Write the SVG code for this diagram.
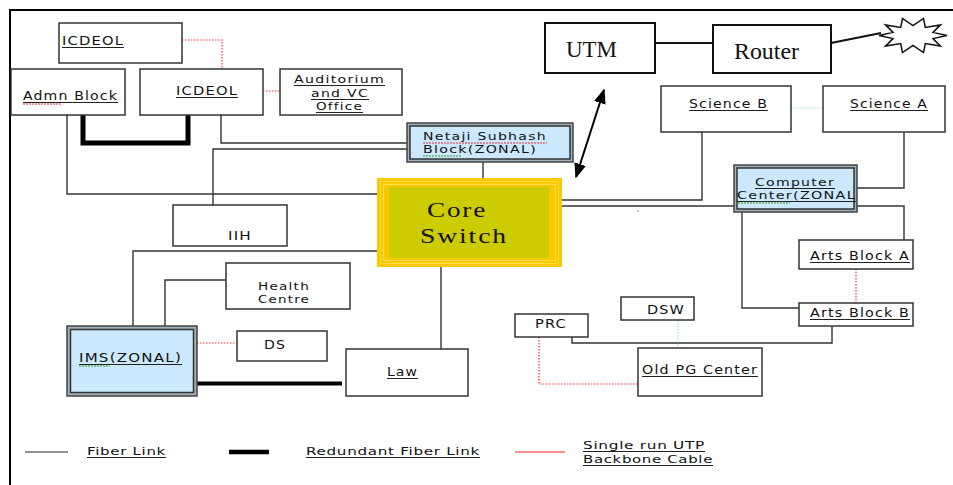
<svg xmlns="http://www.w3.org/2000/svg" width="953" height="485" viewBox="0 0 953 485">
<defs>
<style>
.box{fill:#fff;stroke:#333;stroke-width:1.5}
.big{fill:#fff;stroke:#111;stroke-width:2}
.t{font-family:"DejaVu Sans",Verdana,sans-serif;font-size:12.5px;letter-spacing:1px;fill:#111}
.m{font-size:11px}
.ul{fill:none;stroke:#222;stroke-width:1}
.serif{font-family:"Liberation Serif","Times New Roman",serif;font-size:24px;fill:#111}
.lg{font-family:"DejaVu Sans",Tahoma,sans-serif;font-size:11px;letter-spacing:0.5px;fill:#111}
.fib{fill:none;stroke:#333;stroke-width:1.4}
.red{fill:none;stroke:#ff3030;stroke-width:1.2;stroke-dasharray:1.5 1.5}
.cyan{fill:none;stroke:#9ddde0;stroke-width:1.2;stroke-dasharray:1.5 1.5}
.thick{fill:none;stroke:#000;stroke-width:5}
.zo{fill:#9fb0bc;stroke:#444;stroke-width:1.5}
.zi{fill:#cce8fc;stroke:#333;stroke-width:1.5}
.wr{fill:none;stroke:#e03030;stroke-width:1;stroke-dasharray:2 1}
.wg{fill:none;stroke:#2a9a2a;stroke-width:1;stroke-dasharray:2 1}
</style>
<marker id="ah" viewBox="0 0 10 10" refX="9" refY="5" markerWidth="7.5" markerHeight="6" orient="auto-start-reverse" preserveAspectRatio="none">
<path d="M0,0 L10,5 L0,10 z" fill="#000"/>
</marker>
</defs>
<rect width="953" height="485" fill="#fff"/>
<path d="M10,485 V10 H953" fill="none" stroke="#000" stroke-width="2"/>

<g id="connectors">
<path class="red" d="M182,40 H222 V69"/>
<path class="red" d="M263,91 H280"/>
<path class="thick" d="M83,115 V143 H188 V115"/>
<path class="fib" d="M67,115 V194 H385"/>
<path class="fib" d="M221,115 V143 H408"/>
<path class="fib" d="M213,205 V149 H408"/>
<path class="fib" d="M483,162 V183"/>
<path class="fib" d="M385,251 H133 V326"/>
<path class="fib" d="M165,326 V280 H226"/>
<path class="red" d="M197,343 H237"/>
<path class="thick" d="M197,383.5 H342" style="stroke-width:4"/>
<path class="fib" d="M441,263 V349"/>
<path class="fib" d="M555,200 H702 V132"/>
<path class="fib" d="M555,206 H735"/>
<path class="cyan" d="M791,108 H823"/>
<path class="fib" d="M857,188 H904 V132"/>
<path class="fib" d="M857,206 H904 V240"/>
<path class="fib" d="M742,212 V308 H799"/>
<path class="red" d="M856,269 V303"/>
<path class="fib" d="M832,326 V343 H572 V337"/>
<path class="cyan" d="M678,320 V348"/>
<path class="red" d="M539,337 V384 H638"/>
<path d="M655,43 H713" fill="none" stroke="#111" stroke-width="2"/>
<path d="M831,43 L881,33" fill="none" stroke="#111" stroke-width="2"/>
<path d="M576,177 L604,90" fill="none" stroke="#000" stroke-width="2" marker-start="url(#ah)" marker-end="url(#ah)"/>
<rect x="637.5" y="210.5" width="1" height="1" fill="#333"/>
</g>

<g id="icdeol-top"><rect class="box" x="59" y="23" width="123" height="40"/><text class="t" x="62" y="45" textLength="62" lengthAdjust="spacingAndGlyphs">ICDEOL</text><path class="ul" d="M62,47.5 H124"/></g>
<g id="admn"><rect class="box" x="11" y="69" width="114" height="46"/><text class="t" x="23" y="100" textLength="95" lengthAdjust="spacingAndGlyphs">Admn Block</text><path class="ul" d="M23,102.5 H118"/><path class="wr" d="M23,104 H62"/></g>
<g id="icdeol"><rect class="box" x="140" y="69" width="123" height="46"/><text class="t" x="176" y="95" textLength="62" lengthAdjust="spacingAndGlyphs">ICDEOL</text><path class="ul" d="M176,97.5 H238"/></g>
<g id="auditorium"><rect class="box" x="280" y="69" width="122" height="46"/>
<text class="t m" x="294" y="83" textLength="91" lengthAdjust="spacingAndGlyphs">Auditorium</text><path class="ul" d="M294,85.5 H385"/>
<text class="t m" x="311" y="97" textLength="58" lengthAdjust="spacingAndGlyphs">and VC</text><path class="ul" d="M311,99.5 H369"/>
<text class="t m" x="316" y="110" textLength="47" lengthAdjust="spacingAndGlyphs">Office</text><path class="ul" d="M316,112.5 H363"/></g>

<g id="netaji"><rect class="zo" x="407" y="123" width="166" height="39"/><rect class="zi" x="410" y="126" width="160" height="33"/>
<text class="t m" x="423" y="140" textLength="124" lengthAdjust="spacingAndGlyphs">Netaji Subhash</text>
<text class="t m" x="423" y="153" textLength="114" lengthAdjust="spacingAndGlyphs">Block(ZONAL)</text>
<path class="wr" d="M423,143 H547"/><path class="wg" d="M423,156 H462"/></g>

<g id="core">
<rect x="377" y="178" width="185" height="89" fill="#f9c800"/>
<rect x="380.5" y="181.5" width="178" height="82" fill="none" stroke="#ffdd33" stroke-width="1"/>
<rect x="383.5" y="184.5" width="172" height="76" fill="none" stroke="#ffe04a" stroke-width="1"/>
<rect x="389" y="187" width="160" height="71" fill="#cccc00"/>
<text class="serif" x="427" y="217" textLength="60" lengthAdjust="spacingAndGlyphs" style="font-size:22px;letter-spacing:1.5px">Core</text>
<text class="serif" x="420" y="243" textLength="88" lengthAdjust="spacingAndGlyphs" style="font-size:22px;letter-spacing:1.5px">Switch</text>
</g>

<g id="utm"><rect class="big" x="545" y="23" width="110" height="50"/><text class="serif" x="566" y="57" textLength="51" lengthAdjust="spacingAndGlyphs">UTM</text></g>
<g id="router"><rect class="big" x="713" y="25" width="118" height="48"/><text class="serif" x="734" y="59" textLength="65" lengthAdjust="spacingAndGlyphs">Router</text></g>
<g id="internet"><polygon points="947,35.5 933,38.6 940.5,46.1 925.3,43.6 923.5,52.6 913,45.5 902.5,52.6 900.7,43.6 885.5,46.1 893,38.6 879,35.5 893,32.4 885.5,24.9 900.7,27.4 902.5,18.4 913,25.5 923.5,18.4 925.3,27.4 940.5,24.9 933,32.4" fill="#fff" stroke="#111" stroke-width="1.5"/></g>

<g id="science-b"><rect class="box" x="661" y="86" width="130" height="46"/><text class="t" x="689" y="108" textLength="79" lengthAdjust="spacingAndGlyphs">Science B</text><path class="ul" d="M689,110.5 H768"/></g>
<g id="science-a"><rect class="box" x="823" y="86" width="122" height="46"/><text class="t" x="850" y="108" textLength="78" lengthAdjust="spacingAndGlyphs">Science A</text><path class="ul" d="M850,110.5 H928"/></g>

<g id="computer-center"><rect class="zo" x="734" y="165" width="123" height="47"/><rect class="zi" x="737" y="168" width="117" height="41"/>
<text class="t m" x="755" y="186" textLength="80" lengthAdjust="spacingAndGlyphs">Computer</text><path class="ul" d="M755,188.5 H835"/>
<text class="t m" x="737" y="199" textLength="119" lengthAdjust="spacingAndGlyphs">Center(ZONAL</text><path class="ul" d="M737,201.5 H856"/>
<path class="wg" d="M738,203 H790"/></g>

<g id="iih"><rect class="box" x="173" y="205" width="114" height="41"/><text class="t" x="228" y="240" textLength="24" lengthAdjust="spacingAndGlyphs">IIH</text></g>
<g id="health"><rect class="box" x="226" y="263" width="124" height="46"/>
<text class="t m" x="258" y="290" textLength="52" lengthAdjust="spacingAndGlyphs">Health</text>
<text class="t m" x="258" y="303" textLength="52" lengthAdjust="spacingAndGlyphs">Centre</text></g>
<g id="ims"><rect class="zo" x="67" y="326" width="130" height="70"/><rect class="zi" x="70.5" y="329.5" width="123" height="63"/>
<text class="t" x="79" y="362" textLength="103" lengthAdjust="spacingAndGlyphs">IMS(ZONAL)</text><path class="ul" d="M79,364.5 H182"/><path class="wg" d="M79,366 H110"/></g>
<g id="ds"><rect class="box" x="237" y="331" width="90" height="30"/><text class="t" x="264" y="349" textLength="22" lengthAdjust="spacingAndGlyphs">DS</text></g>
<g id="law"><rect class="box" x="346" y="349" width="122" height="47"/><text class="t" x="387" y="376" textLength="31" lengthAdjust="spacingAndGlyphs">Law</text><path class="ul" d="M387,378.5 H418"/></g>

<g id="arts-a"><rect class="box" x="799" y="240" width="114" height="29"/><text class="t" x="810" y="260" textLength="100" lengthAdjust="spacingAndGlyphs">Arts Block A</text><path class="ul" d="M810,262.5 H910"/></g>
<g id="arts-b"><rect class="box" x="799" y="303" width="114" height="23"/><text class="t" x="810" y="317" textLength="100" lengthAdjust="spacingAndGlyphs">Arts Block B</text><path class="ul" d="M810,319.5 H910"/></g>
<g id="prc"><rect class="box" x="515" y="314" width="73" height="23"/><text class="t" x="535" y="328" textLength="32" lengthAdjust="spacingAndGlyphs">PRC</text></g>
<g id="dsw"><rect class="box" x="621" y="297" width="73" height="23"/><text class="t" x="647" y="314" textLength="38" lengthAdjust="spacingAndGlyphs">DSW</text></g>
<g id="old-pg"><rect class="box" x="638" y="348" width="124" height="48"/><text class="t" x="642" y="374" textLength="116" lengthAdjust="spacingAndGlyphs">Old PG Center</text><path class="ul" d="M642,376.5 H758"/></g>

<g id="legend">
<path d="M25,452 H68" stroke="#222" stroke-width="1.2"/>
<text class="lg" x="87" y="455" textLength="79" lengthAdjust="spacingAndGlyphs">Fiber Link</text><path class="ul" d="M87,457.5 H166"/>
<path d="M229,452 H269" stroke="#000" stroke-width="4.5"/>
<text class="lg" x="306" y="455" textLength="174" lengthAdjust="spacingAndGlyphs">Redundant Fiber Link</text><path class="ul" d="M306,457.5 H480"/>
<path d="M515,452 H565" stroke="#ff2020" stroke-width="1.2"/>
<text class="lg" x="583" y="449" textLength="122" lengthAdjust="spacingAndGlyphs">Single run UTP</text><path class="ul" d="M583,451.5 H705"/>
<text class="lg" x="583" y="463" textLength="130" lengthAdjust="spacingAndGlyphs">Backbone Cable</text><path class="ul" d="M583,465.5 H713"/>
</g>
</svg>
